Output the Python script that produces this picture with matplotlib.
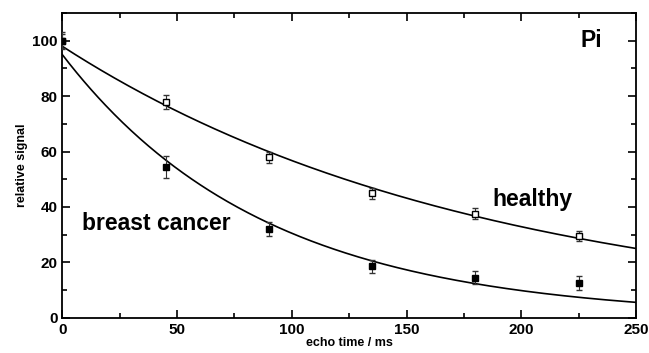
import matplotlib
matplotlib.use("Agg")
import matplotlib.pyplot as plt
import numpy as np
from matplotlib.ticker import MultipleLocator

plt.rcParams.update({"font.family": "Liberation Sans", "font.weight": "bold"})

# data
t_echo = [0, 45, 90, 135, 180, 225]
healthy = [100, 78, 58, 45, 37.5, 29.5]
healthy_err = [2.5, 2.5, 2, 2, 2, 1.8]
cancer = [100, 54.5, 32, 18.5, 14.5, 12.5]
cancer_err = [3, 4, 2.5, 2.5, 2.5, 2.5]

# mono-exponential fit parameters (amplitude, T2 in ms)
fit_healthy = (98.0, 183.0)
fit_cancer = (95.0, 88.0)

fig, ax = plt.subplots(figsize=(6.49, 3.53), dpi=100)
fig.subplots_adjust(left=0.096, right=0.98, top=0.963, bottom=0.1)

tt = np.linspace(0, 250, 400)
for amp, t2 in (fit_healthy, fit_cancer):
    ax.plot(tt, amp * np.exp(-tt / t2), color="black", lw=1.2)

ax.errorbar(t_echo, healthy, yerr=healthy_err, fmt="s", ms=5, mfc="white", mec="black",
            mew=1, ecolor="#333", elinewidth=0.8, capsize=2, zorder=3)
ax.errorbar(t_echo, cancer, yerr=cancer_err, fmt="s", ms=5, mfc="black", mec="black",
            ecolor="#333", elinewidth=0.8, capsize=2, zorder=4)

ax.text(226, 100, "Pi", fontsize=16.5, fontweight="bold", ha="left", va="center")
ax.text(187.5, 42.5, "healthy", fontsize=16.5, fontweight="bold", ha="left", va="center")
ax.text(8.5, 34, "breast cancer", fontsize=16.5, fontweight="bold", ha="left", va="center")

ax.set_xlim(0, 250); ax.set_ylim(0, 110)
ax.xaxis.set_major_locator(MultipleLocator(50)); ax.xaxis.set_minor_locator(MultipleLocator(25))
ax.yaxis.set_major_locator(MultipleLocator(20)); ax.yaxis.set_minor_locator(MultipleLocator(10))
ax.tick_params(which="both", direction="in", top=True, right=True, labelsize=11, width=1.2)
ax.tick_params(which="major", length=6)
ax.tick_params(which="minor", length=3.5)
for lab in ax.get_xticklabels() + ax.get_yticklabels():
    lab.set_fontweight("bold")
for s in ax.spines.values():
    s.set_linewidth(1.3)
ax.set_xlabel("echo time / ms", fontsize=9, fontweight="bold", labelpad=0)
ax.set_ylabel("relative signal", fontsize=9, fontweight="bold", labelpad=3)

fig.savefig("out.png")
